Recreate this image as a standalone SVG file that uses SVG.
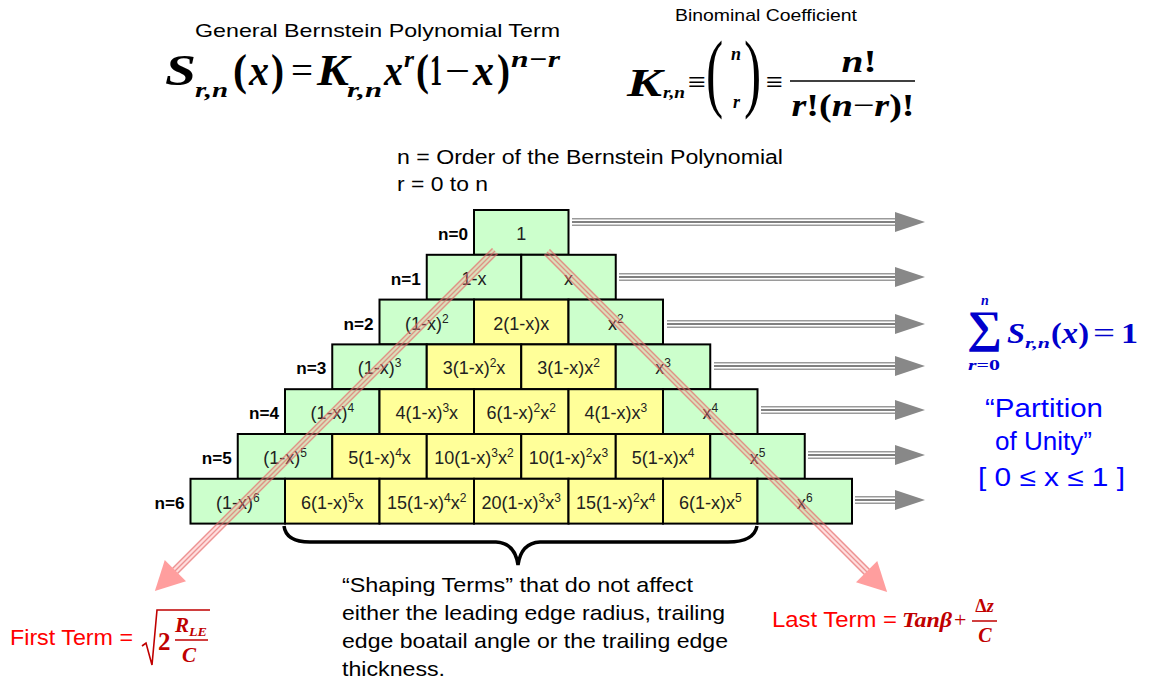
<svg xmlns="http://www.w3.org/2000/svg" width="1149" height="681" viewBox="0 0 1149 681">
<style>
.sans{font-family:"Liberation Sans",Arial,sans-serif}
.math{font-family:"Liberation Serif","Times New Roman",serif;font-weight:bold;font-style:italic}
.up{font-style:normal}
.g{fill:#CCFFCC;stroke:#000;stroke-width:2}
.y{fill:#FFFF99;stroke:#000;stroke-width:2}
.ct{font-family:"Liberation Sans",Arial,sans-serif;font-size:18px;fill:#222;text-anchor:middle}
.lbl{font-family:"Liberation Sans",Arial,sans-serif;font-size:16px;font-weight:bold;fill:#000;text-anchor:end}
.shape{font-family:"Liberation Sans",Arial,sans-serif;font-size:21px;fill:#000}
.blue{font-family:"Liberation Sans",Arial,sans-serif;font-size:26px;fill:#0000FF}
</style>
<defs>
<g id="pinkline">
<line x1="0" y1="0" x2="454" y2="0" stroke="#FF9090" stroke-width="9" stroke-opacity="0.3"/>
<line x1="0" y1="-3.5" x2="454" y2="-3.5" stroke="#E06060" stroke-width="1.3" stroke-opacity="0.6"/>
<line x1="0" y1="0" x2="454" y2="0" stroke="#E06060" stroke-width="1.3" stroke-opacity="0.6"/>
<line x1="0" y1="3.5" x2="454" y2="3.5" stroke="#E06060" stroke-width="1.3" stroke-opacity="0.6"/>
</g>
</defs>
<rect width="1149" height="681" fill="#fff"/>

<g id="title-general">
<text class="sans" x="195" y="37" font-size="19" textLength="365" lengthAdjust="spacingAndGlyphs">General Bernstein Polynomial Term</text>
<g class="math" font-size="45">
<text x="165" y="85" textLength="31" lengthAdjust="spacingAndGlyphs">S</text>
<text x="195" y="97" font-size="22" textLength="33" lengthAdjust="spacingAndGlyphs">r,n</text>
<text x="233" y="85" class="up" textLength="14" lengthAdjust="spacingAndGlyphs">(</text>
<text x="249" y="85" textLength="20" lengthAdjust="spacingAndGlyphs">x</text>
<text x="271" y="85" class="up" textLength="13" lengthAdjust="spacingAndGlyphs">)</text>
<text x="291" y="84" class="up" font-weight="normal" font-size="40" textLength="22" lengthAdjust="spacingAndGlyphs">=</text>
<text x="317" y="85" textLength="32" lengthAdjust="spacingAndGlyphs">K</text>
<text x="347" y="97" font-size="22" textLength="35" lengthAdjust="spacingAndGlyphs">r,n</text>
<text x="384" y="85" textLength="19" lengthAdjust="spacingAndGlyphs">x</text>
<text x="404" y="67" font-size="24" textLength="10" lengthAdjust="spacingAndGlyphs">r</text>
<text x="416" y="85" class="up" textLength="13" lengthAdjust="spacingAndGlyphs">(</text>
<text x="430" y="85" class="up" textLength="12" lengthAdjust="spacingAndGlyphs">1</text>
<text x="445" y="84" class="up" font-weight="normal" font-size="40" textLength="25" lengthAdjust="spacingAndGlyphs">−</text>
<text x="473" y="85" textLength="21" lengthAdjust="spacingAndGlyphs">x</text>
<text x="497" y="85" class="up" textLength="13" lengthAdjust="spacingAndGlyphs">)</text>
<text x="511" y="67" font-size="24" textLength="49" lengthAdjust="spacingAndGlyphs">n−r</text>
</g>
</g>

<g id="title-binomial">
<text class="sans" x="675" y="21" font-size="17" textLength="182" lengthAdjust="spacingAndGlyphs">Binominal Coefficient</text>
<g class="math">
<text x="627" y="96" font-size="40" textLength="35" lengthAdjust="spacingAndGlyphs">K</text>
<text x="663" y="98" font-size="17" textLength="22" lengthAdjust="spacingAndGlyphs">r,n</text>
<text x="688" y="92" class="up" font-weight="normal" font-size="30" textLength="18" lengthAdjust="spacingAndGlyphs">≡</text>
<text transform="translate(706,101) scale(0.6,1)" class="up" font-weight="normal" font-size="86">(</text>
<text x="731" y="60" font-size="18">n</text>
<text x="733" y="108" font-size="18">r</text>
<text transform="translate(744,101) scale(0.6,1)" class="up" font-weight="normal" font-size="86">)</text>
<text x="766" y="92" class="up" font-weight="normal" font-size="30" textLength="17" lengthAdjust="spacingAndGlyphs">≡</text>
<line x1="790" y1="81" x2="915" y2="81" stroke="#000" stroke-width="1.5"/>
<text x="859" y="72" font-size="32" text-anchor="middle" textLength="35" lengthAdjust="spacingAndGlyphs">n<tspan class="up">!</tspan></text>
<text x="853" y="116" font-size="32" text-anchor="middle" textLength="123" lengthAdjust="spacingAndGlyphs">r<tspan class="up">!(</tspan>n<tspan class="up" font-weight="normal">−</tspan>r<tspan class="up">)!</tspan></text>
</g>
</g>

<g id="order-note" class="sans" font-size="20">
<text x="397" y="164" textLength="386" lengthAdjust="spacingAndGlyphs">n = Order of the Bernstein Polynomial</text>
<text x="397" y="191" textLength="91" lengthAdjust="spacingAndGlyphs">r = 0 to n</text>
</g>

<g id="row-labels">
<text class="lbl" x="468" y="240" textLength="30" lengthAdjust="spacingAndGlyphs">n=0</text>
<text class="lbl" x="420.75" y="284.8" textLength="30" lengthAdjust="spacingAndGlyphs">n=1</text>
<text class="lbl" x="373.5" y="329.6" textLength="30" lengthAdjust="spacingAndGlyphs">n=2</text>
<text class="lbl" x="326.25" y="374.4" textLength="30" lengthAdjust="spacingAndGlyphs">n=3</text>
<text class="lbl" x="279" y="419.2" textLength="30" lengthAdjust="spacingAndGlyphs">n=4</text>
<text class="lbl" x="231.75" y="464" textLength="30" lengthAdjust="spacingAndGlyphs">n=5</text>
<text class="lbl" x="184.5" y="508.8" textLength="30" lengthAdjust="spacingAndGlyphs">n=6</text>
</g>

<g id="row0">
<rect class="g" x="474" y="210" width="94.5" height="44.8"/><text class="ct" x="521.25" y="240">1</text>
</g>
<g id="row1">
<rect class="g" x="426.75" y="254.8" width="94.5" height="44.8"/><text class="ct" x="474" y="284.8">1-x</text>
<rect class="g" x="521.25" y="254.8" width="94.5" height="44.8"/><text class="ct" x="568.5" y="284.8">x</text>
</g>
<g id="row2">
<rect class="g" x="379.5" y="299.6" width="94.5" height="44.8"/><text class="ct" x="426.75" y="329.6">(1-x)<tspan dy="-7" font-size="12">2</tspan></text>
<rect class="y" x="474" y="299.6" width="94.5" height="44.8"/><text class="ct" x="521.25" y="329.6">2(1-x)x</text>
<rect class="g" x="568.5" y="299.6" width="94.5" height="44.8"/><text class="ct" x="615.75" y="329.6">x<tspan dy="-7" font-size="12">2</tspan></text>
</g>
<g id="row3">
<rect class="g" x="332.25" y="344.4" width="94.5" height="44.8"/><text class="ct" x="379.5" y="374.4">(1-x)<tspan dy="-7" font-size="12">3</tspan></text>
<rect class="y" x="426.75" y="344.4" width="94.5" height="44.8"/><text class="ct" x="474" y="374.4">3(1-x)<tspan dy="-7" font-size="12">2</tspan><tspan dy="7">x</tspan></text>
<rect class="y" x="521.25" y="344.4" width="94.5" height="44.8"/><text class="ct" x="568.5" y="374.4">3(1-x)x<tspan dy="-7" font-size="12">2</tspan></text>
<rect class="g" x="615.75" y="344.4" width="94.5" height="44.8"/><text class="ct" x="663" y="374.4">x<tspan dy="-7" font-size="12">3</tspan></text>
</g>
<g id="row4">
<rect class="g" x="285" y="389.2" width="94.5" height="44.8"/><text class="ct" x="332.25" y="419.2">(1-x)<tspan dy="-7" font-size="12">4</tspan></text>
<rect class="y" x="379.5" y="389.2" width="94.5" height="44.8"/><text class="ct" x="426.75" y="419.2">4(1-x)<tspan dy="-7" font-size="12">3</tspan><tspan dy="7">x</tspan></text>
<rect class="y" x="474" y="389.2" width="94.5" height="44.8"/><text class="ct" x="521.25" y="419.2">6(1-x)<tspan dy="-7" font-size="12">2</tspan><tspan dy="7">x</tspan><tspan dy="-7" font-size="12">2</tspan></text>
<rect class="y" x="568.5" y="389.2" width="94.5" height="44.8"/><text class="ct" x="615.75" y="419.2">4(1-x)x<tspan dy="-7" font-size="12">3</tspan></text>
<rect class="g" x="663" y="389.2" width="94.5" height="44.8"/><text class="ct" x="710.25" y="419.2">x<tspan dy="-7" font-size="12">4</tspan></text>
</g>
<g id="row5">
<rect class="g" x="237.75" y="434" width="94.5" height="44.8"/><text class="ct" x="285" y="464">(1-x)<tspan dy="-7" font-size="12">5</tspan></text>
<rect class="y" x="332.25" y="434" width="94.5" height="44.8"/><text class="ct" x="379.5" y="464">5(1-x)<tspan dy="-7" font-size="12">4</tspan><tspan dy="7">x</tspan></text>
<rect class="y" x="426.75" y="434" width="94.5" height="44.8"/><text class="ct" x="474" y="464">10(1-x)<tspan dy="-7" font-size="12">3</tspan><tspan dy="7">x</tspan><tspan dy="-7" font-size="12">2</tspan></text>
<rect class="y" x="521.25" y="434" width="94.5" height="44.8"/><text class="ct" x="568.5" y="464">10(1-x)<tspan dy="-7" font-size="12">2</tspan><tspan dy="7">x</tspan><tspan dy="-7" font-size="12">3</tspan></text>
<rect class="y" x="615.75" y="434" width="94.5" height="44.8"/><text class="ct" x="663" y="464">5(1-x)x<tspan dy="-7" font-size="12">4</tspan></text>
<rect class="g" x="710.25" y="434" width="94.5" height="44.8"/><text class="ct" x="757.5" y="464">x<tspan dy="-7" font-size="12">5</tspan></text>
</g>
<g id="row6">
<rect class="g" x="190.5" y="478.8" width="94.5" height="44.8"/><text class="ct" x="237.75" y="508.8">(1-x)<tspan dy="-7" font-size="12">6</tspan></text>
<rect class="y" x="285" y="478.8" width="94.5" height="44.8"/><text class="ct" x="332.25" y="508.8">6(1-x)<tspan dy="-7" font-size="12">5</tspan><tspan dy="7">x</tspan></text>
<rect class="y" x="379.5" y="478.8" width="94.5" height="44.8"/><text class="ct" x="426.75" y="508.8">15(1-x)<tspan dy="-7" font-size="12">4</tspan><tspan dy="7">x</tspan><tspan dy="-7" font-size="12">2</tspan></text>
<rect class="y" x="474" y="478.8" width="94.5" height="44.8"/><text class="ct" x="521.25" y="508.8">20(1-x)<tspan dy="-7" font-size="12">3</tspan><tspan dy="7">x</tspan><tspan dy="-7" font-size="12">3</tspan></text>
<rect class="y" x="568.5" y="478.8" width="94.5" height="44.8"/><text class="ct" x="615.75" y="508.8">15(1-x)<tspan dy="-7" font-size="12">2</tspan><tspan dy="7">x</tspan><tspan dy="-7" font-size="12">4</tspan></text>
<rect class="y" x="663" y="478.8" width="94.5" height="44.8"/><text class="ct" x="710.25" y="508.8">6(1-x)x<tspan dy="-7" font-size="12">5</tspan></text>
<rect class="g" x="757.5" y="478.8" width="94.5" height="44.8"/><text class="ct" x="804.75" y="508.8">x<tspan dy="-7" font-size="12">6</tspan></text>
</g>

<g id="connectors">
<g fill="none">
<path d="M572 222H897M619 277H897M667 324H897M714 366H897M761 410H897M808 455H897M855 500H897" stroke="#9a9a9a" stroke-width="8"/>
<path d="M572 222H897M619 277H897M667 324H897M714 366H897M761 410H897M808 455H897M855 500H897" stroke="#fff" stroke-width="5"/>
<path d="M572 222H897M619 277H897M667 324H897M714 366H897M761 410H897M808 455H897M855 500H897" stroke="#808080" stroke-width="2"/>
</g>
<g fill="#888">
<polygon points="895,212 925,222 895,232"/>
<polygon points="895,267 925,277 895,287"/>
<polygon points="895,314 925,324 895,334"/>
<polygon points="895,356 925,366 895,376"/>
<polygon points="895,400 925,410 895,420"/>
<polygon points="895,445 925,455 895,465"/>
<polygon points="895,490 925,500 895,510"/>
</g>
<g transform="translate(495,251) rotate(135)">
<use href="#pinkline"/>
<polygon points="452,-15 481,0 452,15" fill="#FF9E9E"/>
</g>
<g transform="translate(547,252) rotate(45)">
<use href="#pinkline"/>
<polygon points="452,-15 481,0 452,15" fill="#FF9E9E"/>
</g>
<path d="M284 526 Q286 542 310 542 L496 542 Q515 543 518 565 Q521 543 540 542 L728 542 Q754 542 757 526" fill="none" stroke="#000" stroke-width="3.5"/>
</g>

<g id="partition">
<g class="math" fill="#0000CC">
<text x="967" y="342" class="up" font-size="45" textLength="35" lengthAdjust="spacingAndGlyphs">∑</text>
<text x="985" y="305" font-size="14" text-anchor="middle">n</text>
<text x="984" y="370" font-size="14" text-anchor="middle" textLength="32" lengthAdjust="spacingAndGlyphs">r<tspan class="up">=0</tspan></text>
<text x="1007" y="343" font-size="30" textLength="18" lengthAdjust="spacingAndGlyphs">S</text>
<text x="1025" y="348" font-size="15" textLength="25" lengthAdjust="spacingAndGlyphs">r,n</text>
<text x="1051" y="343" font-size="30" textLength="38" lengthAdjust="spacingAndGlyphs"><tspan class="up">(</tspan>x<tspan class="up">)</tspan></text>
<text x="1093" y="343" class="up" font-weight="normal" font-size="30" textLength="22" lengthAdjust="spacingAndGlyphs">=</text>
<text x="1121" y="343" class="up" font-size="30" textLength="17" lengthAdjust="spacingAndGlyphs">1</text>
</g>
<text class="blue" x="985" y="417" textLength="118" lengthAdjust="spacingAndGlyphs">“Partition</text>
<text class="blue" x="995" y="450" textLength="97" lengthAdjust="spacingAndGlyphs">of Unity”</text>
<text class="blue" x="978" y="486" textLength="147" lengthAdjust="spacingAndGlyphs">[ 0 ≤ x ≤ 1 ]</text>
</g>

<g id="shaping-terms" class="shape">
<text x="342" y="592" textLength="351" lengthAdjust="spacingAndGlyphs">“Shaping Terms” that do not affect</text>
<text x="342" y="620" textLength="383" lengthAdjust="spacingAndGlyphs">either the leading edge radius, trailing</text>
<text x="342" y="648" textLength="386" lengthAdjust="spacingAndGlyphs">edge boatail angle or the trailing edge</text>
<text x="342" y="676" textLength="103" lengthAdjust="spacingAndGlyphs">thickness.</text>
</g>

<g id="first-term">
<text class="sans" x="10" y="645" font-size="22" fill="#FF0000" textLength="123" lengthAdjust="spacingAndGlyphs">First Term =</text>
<polyline points="142,646 146,643 152,665 157,610 210,610" fill="none" stroke="#C00000" stroke-width="1.6"/>
<g class="math" fill="#C00000">
<text x="158" y="650" class="up" font-size="25">2</text>
<text x="175" y="632" font-size="21">R</text>
<text x="189" y="636" font-size="12" textLength="18" lengthAdjust="spacingAndGlyphs">LE</text>
<line x1="175" y1="640" x2="208" y2="640" stroke="#C00000" stroke-width="1.5"/>
<text x="189" y="662" font-size="21" text-anchor="middle">C</text>
</g>
</g>

<g id="last-term">
<text class="sans" x="772" y="627" font-size="22" fill="#FF0000" textLength="125" lengthAdjust="spacingAndGlyphs">Last Term =</text>
<g class="math" fill="#C00000">
<text x="902" y="627" font-size="22" textLength="50" lengthAdjust="spacingAndGlyphs">Tanβ</text>
<text x="954" y="627" class="up" font-weight="normal" font-size="22">+</text>
<line x1="972" y1="621" x2="997" y2="621" stroke="#C00000" stroke-width="1.5"/>
<text x="984.5" y="612" class="up" font-size="18" text-anchor="middle">Δ<tspan font-style="italic">z</tspan></text>
<text x="985" y="642" font-size="20" text-anchor="middle">C</text>
</g>
</g>
</svg>
